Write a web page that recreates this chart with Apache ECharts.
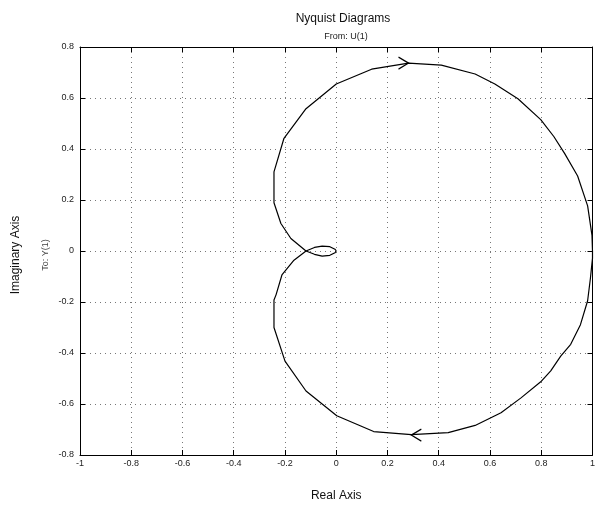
<!DOCTYPE html>
<html>
<head>
<meta charset="utf-8">
<script src="https://cdn.jsdelivr.net/npm/echarts@6/dist/echarts.min.js"></script>
<style>html,body{margin:0;padding:0;background:#fff;}#c{width:598px;height:507px;}</style>
</head>
<body>
<div id="c"></div>
<script>
// Negative-frequency branch (upper half), ordered from (1,0) to origin
const topRe = [1.0, 0.998, 0.981, 0.942, 0.891, 0.849, 0.798, 0.709, 0.619, 0.542, 0.410, 0.282, 0.138, 0.0, -0.118, -0.204, -0.243, -0.243, -0.216, -0.177, -0.118, -0.085, -0.055, -0.025, -0.005, 0.0];
const topIm = [0.0, 0.061, 0.177, 0.294, 0.383, 0.449, 0.515, 0.597, 0.655, 0.694, 0.729, 0.737, 0.713, 0.655, 0.558, 0.442, 0.310, 0.189, 0.108, 0.049, 0.0, -0.013, -0.020, -0.017, -0.007, 0.0];
// Positive-frequency branch (lower half), ordered from (1,0) to origin
const botRe = [1.0, 1.0, 0.992, 0.981, 0.953, 0.915, 0.876, 0.837, 0.798, 0.721, 0.643, 0.542, 0.437, 0.293, 0.146, 0.002, -0.118, -0.200, -0.243, -0.243, -0.235, -0.212, -0.165, -0.118, -0.085, -0.055, -0.025, -0.005, 0.0];
const botIm = [0.0, -0.028, -0.106, -0.195, -0.289, -0.366, -0.412, -0.470, -0.513, -0.576, -0.634, -0.684, -0.712, -0.720, -0.708, -0.646, -0.549, -0.432, -0.300, -0.192, -0.172, -0.094, -0.036, 0.0, 0.014, 0.019, 0.017, 0.007, 0.0];
// Direction arrows [re, im]
const arrowTop = [0.282, 0.737];
const arrowBot = [0.293, -0.722];

const FONT = '"Liberation Sans", Arial, sans-serif';
const pair = (a, b) => a.map((v, i) => [v, b[i]]);
const fmt = v => (v === 0 ? '0' : String(v));
const chevron = 'path://M0,0 L10,5 L0,10';

const chart = echarts.init(document.getElementById('c'), null, {renderer: 'canvas'});
const gridLine = {show: true, lineStyle: {color: '#777', type: [1, 4], width: 1}};
const baseAxis = {
  type: 'value', interval: 0.2,
  axisLine: {show: true, onZero: false, lineStyle: {color: '#000', width: 1}},
  axisTick: {show: true, inside: true, length: 5, lineStyle: {color: '#000'}},
};
chart.setOption({
  animation: false,
  backgroundColor: '#fff',
  title: [
    {text: 'Nyquist Diagrams', left: 338, top: 8, textAlign: 'center',
     textStyle: {fontFamily: FONT, fontSize: 12, fontWeight: 'normal', color: '#111'}},
    {text: 'From: U(1)', left: 341, top: 27, textAlign: 'center',
     textStyle: {fontFamily: FONT, fontSize: 9, fontWeight: 'normal', color: '#222'}}
  ],
  grid: {left: 80, right: 2, top: 47, bottom: 45},
  xAxis: [
    Object.assign({}, baseAxis, {min: -1, max: 1, position: 'bottom',
      name: 'Real Axis', nameLocation: 'middle', nameGap: 35,
      nameTextStyle: {fontFamily: FONT, fontSize: 12, color: '#111'},
      axisLabel: {fontFamily: FONT, fontSize: 9, color: '#222', margin: 4, formatter: fmt},
      splitLine: gridLine}),
    Object.assign({}, baseAxis, {min: -1, max: 1, position: 'top',
      axisLabel: {show: false}, splitLine: {show: false}})
  ],
  yAxis: [
    Object.assign({}, baseAxis, {min: -0.8, max: 0.8, position: 'left',
      axisLabel: {fontFamily: FONT, fontSize: 9, color: '#222', margin: 6, formatter: fmt},
      splitLine: gridLine}),
    Object.assign({}, baseAxis, {min: -0.8, max: 0.8, position: 'right',
      axisLabel: {show: false}, splitLine: {show: false}})
  ],
  graphic: [
    {type: 'text', rotation: Math.PI / 2, x: 16, y: 255,
     style: {text: 'Imaginary Axis', font: '12px ' + FONT, fill: '#111', textAlign: 'center', textVerticalAlign: 'middle'}},
    {type: 'text', rotation: Math.PI / 2, x: 46, y: 255,
     style: {text: 'To: Y(1)', font: '9px ' + FONT, fill: '#444', textAlign: 'center', textVerticalAlign: 'middle'}}
  ],
  series: [
    {type: 'line', data: pair(topRe, topIm), showSymbol: false, symbol: 'none',
     lineStyle: {color: '#000', width: 1.2}, z: 5,
     markPoint: {symbol: chevron, symbolSize: [10, 12], symbolOffset: [-5, 0], silent: true,
       itemStyle: {color: 'none', borderColor: '#000', borderWidth: 1.2},
       label: {show: false},
       data: [{coord: arrowTop}]}},
    {type: 'line', data: pair(botRe, botIm), showSymbol: false, symbol: 'none',
     lineStyle: {color: '#000', width: 1.2}, z: 5,
     markPoint: {symbol: chevron, symbolSize: [10, 12], symbolRotate: 180, symbolOffset: [5, 0], silent: true,
       itemStyle: {color: 'none', borderColor: '#000', borderWidth: 1.2},
       label: {show: false},
       data: [{coord: arrowBot}]}}
  ]
});
</script>
</body>
</html>
